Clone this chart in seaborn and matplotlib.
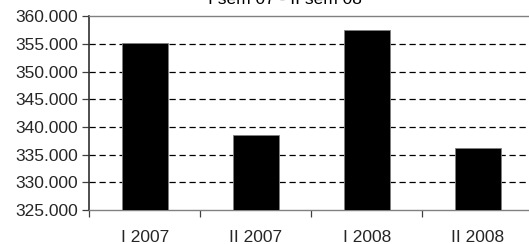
import matplotlib
matplotlib.use("Agg")
import matplotlib.pyplot as plt
import seaborn as sns
import pandas as pd
from matplotlib.ticker import FuncFormatter, FixedLocator

categories = ["I 2007", "II 2007", "I 2008", "II 2008"]
values = [355100, 338500, 357600, 336200]
title = "I sem 07 - II sem 08"

sns.set_theme(style="white")
plt.rcParams['font.family'] = ['Liberation Sans', 'DejaVu Sans']

df = pd.DataFrame({"cat": categories, "val": values})

fig = plt.figure(figsize=(5.29, 2.44), dpi=100)
ax = fig.add_axes([89.3/529, 1-210/244, 444.2/529, (210-16.3)/244])

sns.barplot(data=df, x="cat", y="val", ax=ax, color="black", width=0.42,
            edgecolor="#808080", linewidth=0.6, saturation=1, zorder=3)

ax.set_ylim(325000, 360000)
ax.set_xlim(-0.5, 3.5)
ax.set_yticks(range(325000, 360001, 5000))
ax.yaxis.set_major_formatter(FuncFormatter(lambda v, p: f"{v/1000:.3f}"))
for y in range(330000, 360000, 5000):
    ax.axhline(y, color="black", lw=0.9, dashes=(5, 3), zorder=1)

ax.set_xlabel("")
ax.set_ylabel("")
ax.tick_params(axis="x", which="major", length=0, labelsize=12.5, pad=14.5)
ax.xaxis.set_minor_locator(FixedLocator([-0.5, 0.5, 1.5, 2.5]))
ax.tick_params(axis="x", which="minor", length=5, width=0.9, color="#404040", direction="out", bottom=True)
ax.tick_params(axis="y", length=5, width=0.9, color="#404040", direction="out", labelsize=12.5, pad=3, left=True)

for s in ["left"]:
    ax.spines[s].set_color("#303030")
    ax.spines[s].set_linewidth(1.2)
for s in ["bottom", "top"]:
    ax.spines[s].set_color("#808080")
    ax.spines[s].set_linewidth(1.0)
ax.spines["right"].set_visible(False)

fig.text(285/529, 1-4/244, title, ha="center", va="baseline", fontsize=12.5, color="black")

fig.savefig("out.png", dpi=100)
